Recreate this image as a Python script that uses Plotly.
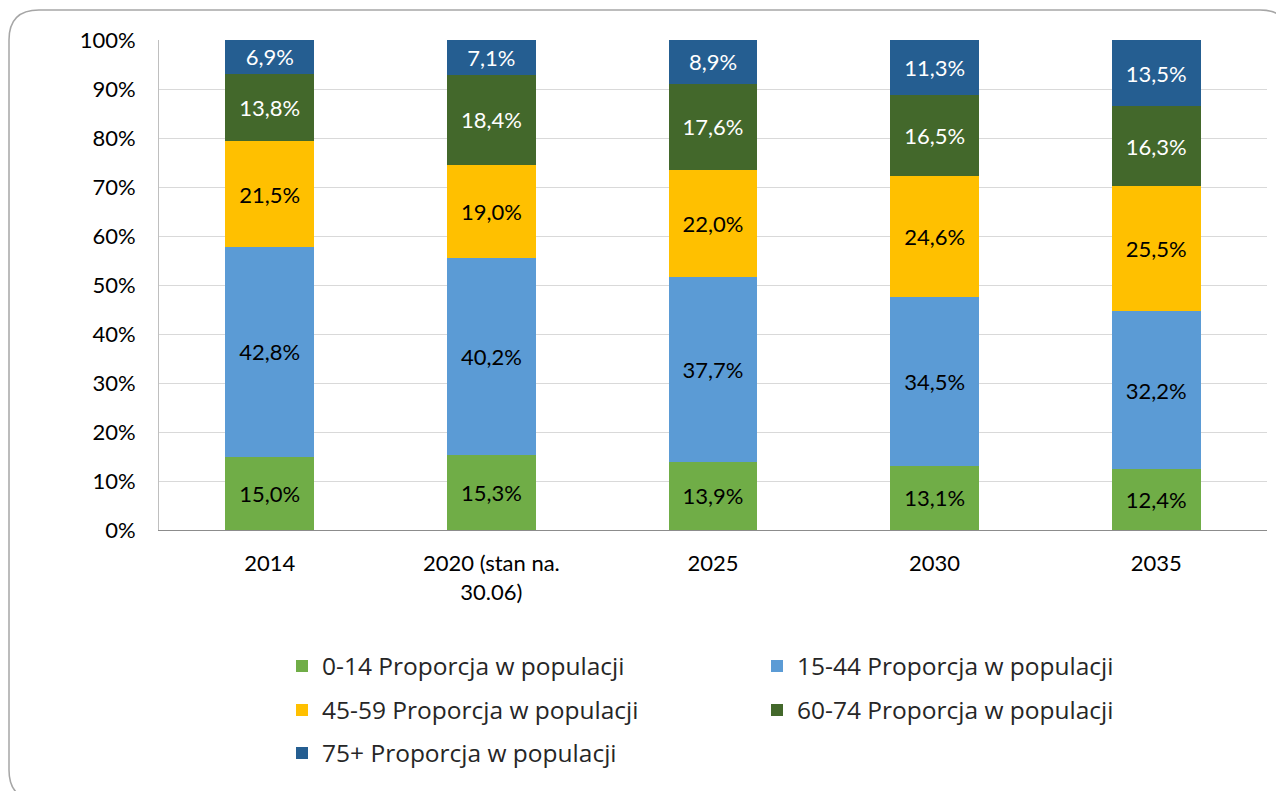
import plotly.graph_objects as go

categories = ["2014", "2020 (stan na.<br>30.06)", "2025", "2030", "2035"]

series_names = [
    "0-14 Proporcja w populacji",
    "15-44 Proporcja w populacji",
    "45-59 Proporcja w populacji",
    "60-74 Proporcja w populacji",
    "75+ Proporcja w populacji",
]
v_0_14 = [15.0, 15.3, 13.9, 13.1, 12.4]
v_15_44 = [42.8, 40.2, 37.7, 34.5, 32.2]
v_45_59 = [21.5, 19.0, 22.0, 24.6, 25.5]
v_60_74 = [13.8, 18.4, 17.6, 16.5, 16.3]
v_75 = [6.9, 7.1, 8.9, 11.3, 13.5]

y_ticks = [0, 10, 20, 30, 40, 50, 60, 70, 80, 90, 100]
y_tick_labels = [f"{v}%" for v in y_ticks]

series_values = [v_0_14, v_15_44, v_45_59, v_60_74, v_75]
colors = ["#70AD47", "#5B9BD5", "#FFC000", "#43682B", "#255E91"]
text_colors = ["#000000", "#000000", "#000000", "#FFFFFF", "#FFFFFF"]
legend_ids = ["legend", "legend", "legend2", "legend2", "legend3"]

FONT = "Lato"
FS = 22
LFONT = "Open Sans"
LFS = 24.5

fig = go.Figure()
for name, vals, col, tcol, lg in zip(series_names, series_values, colors, text_colors, legend_ids):
    fig.add_trace(go.Bar(
        x=categories, y=vals, name=name,
        marker=dict(color=col, line=dict(width=0)),
        text=[f"{v:.1f}".replace(".", ",") + "%" for v in vals],
        textposition="inside", insidetextanchor="middle", textangle=0,
        textfont=dict(family=FONT, size=FS, color=tcol),
        legend=lg, hoverinfo="skip",
    ))

# layout geometry (pixels; page body has an 8px offset)
OFF = 8
W, H = 1284 - OFF, 791 - OFF
ML, MT = 159 - OFF, 40 - OFF
PR, PB = 1267 - OFF, 530 - OFF
MR, MB = W - PR, H - PB
PW, PH = PR - ML, PB - MT

def px(x):
    return (x - OFF - ML) / PW

def py(y):
    return (PB - (y - OFF)) / PH

# rounded border (window pixel coordinates)
L, T, R, B, r = 9, 10, 1290, 800, 30
path = (
    f"M {px(L + r)} {py(T)} L {px(R - r)} {py(T)} "
    f"Q {px(R)} {py(T)} {px(R)} {py(T + r)} "
    f"L {px(R)} {py(B - r)} Q {px(R)} {py(B)} {px(R - r)} {py(B)} "
    f"L {px(L + r)} {py(B)} Q {px(L)} {py(B)} {px(L)} {py(B - r)} "
    f"L {px(L)} {py(T + r)} Q {px(L)} {py(T)} {px(L + r)} {py(T)} Z"
)

legend_common = dict(
    orientation="h", entrywidth=430, entrywidthmode="pixels",
    traceorder="normal",
    x=px(282), xanchor="left", yanchor="middle",
    font=dict(family=LFONT, size=LFS, color="#262626"),
    bgcolor="rgba(0,0,0,0)", borderwidth=0,
)

fig.update_layout(
    width=W, height=H,
    margin=dict(l=ML, r=MR, t=MT, b=MB, pad=0),
    barmode="stack", barnorm="percent", bargap=0.6,
    plot_bgcolor="white", paper_bgcolor="white",
    font=dict(family=FONT, size=FS, color="#000000"),
    uniformtext=dict(minsize=FS, mode="show"),
    showlegend=True,
    legend=dict(**legend_common, y=py(666)),
    legend2=dict(**legend_common, y=py(710)),
    legend3=dict(**legend_common, y=py(753)),
    shapes=[dict(type="path", xref="paper", yref="paper", path=path,
                 line=dict(color="#A6A6A6", width=1.5), layer="above")],
    xaxis=dict(
        showgrid=False, showline=True, linecolor="#8C8C8C", linewidth=1,
        ticks="", tickfont=dict(family=FONT, size=FS, color="#000000"),
        ticklabelstandoff=14, fixedrange=True,
    ),
    yaxis=dict(
        range=[0, 100], tickmode="array", tickvals=y_ticks, ticktext=y_tick_labels,
        showgrid=True, gridcolor="#D9D9D9", gridwidth=1,
        showline=True, linecolor="#BFBFBF", linewidth=1,
        zeroline=False, ticks="",
        tickfont=dict(family=FONT, size=FS, color="#000000"),
        ticklabelstandoff=18, fixedrange=True,
    ),
)

fig.write_html("out.html")
